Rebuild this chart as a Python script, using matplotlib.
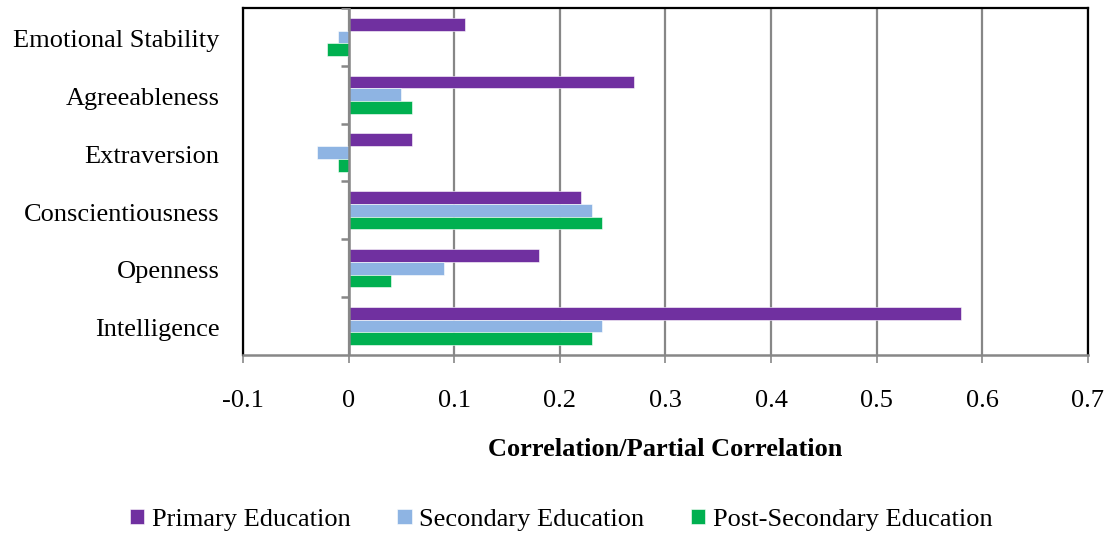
import matplotlib.pyplot as plt
import numpy as np

# data (bottom to top, as drawn on the category axis)
categories = ["Intelligence", "Openness", "Conscientiousness",
              "Extraversion", "Agreeableness", "Emotional Stability"]
primary = [0.58, 0.18, 0.22, 0.06, 0.27, 0.11]
secondary = [0.24, 0.09, 0.23, -0.03, 0.05, -0.01]
post_secondary = [0.23, 0.04, 0.24, -0.01, 0.06, -0.02]
series_names = ["Primary Education", "Secondary Education", "Post-Secondary Education"]
x_ticks = [-0.1, 0, 0.1, 0.2, 0.3, 0.4, 0.5, 0.6, 0.7]
x_tick_labels = ["-0.1", "0", "0.1", "0.2", "0.3", "0.4", "0.5", "0.6", "0.7"]

colors = ["#7030A0", "#8EB4E3", "#00B050"]
grid_gray = "#878787"
fs = 19

plt.rcParams['font.family'] = ['Liberation Serif', 'DejaVu Serif']

fig = plt.figure(figsize=(11.07, 5.33), dpi=100)
ax = fig.add_axes([0.2195, 0.334, 0.9828 - 0.2195, 0.985 - 0.334])

y = np.arange(len(categories))
h = 0.22
for k, (vals, name) in enumerate(zip([primary, secondary, post_secondary], series_names)):
    ax.barh(y + (1 - k) * h, vals, height=h, color=colors[k], label=name,
            edgecolor="white", linewidth=0.4, zorder=3)

ax.set_xlim(-0.1, 0.7)
ax.set_ylim(-0.5, len(categories) - 0.5)

# vertical gridlines
ax.set_xticks(x_ticks)
ax.set_xticklabels(x_tick_labels, fontsize=fs)
ax.grid(axis='x', color=grid_gray, linewidth=1.6, zorder=1)

# category axis sits at x = 0, with small tick marks between categories
ax.axvline(0, color=grid_gray, linewidth=1.8, zorder=4)
bounds = np.arange(len(categories) + 1) - 0.5
ax.hlines(bounds[1:], -0.007, 0, color=grid_gray, linewidth=1.8, zorder=4)

ax.set_yticks(y - 0.03)
ax.set_yticklabels(categories, fontsize=fs)
ax.tick_params(axis='y', length=0, pad=17)
ax.tick_params(axis='x', length=6, width=1.2, color=grid_gray, pad=19)

for side in ['left', 'top', 'right']:
    ax.spines[side].set_color('black')
    ax.spines[side].set_linewidth(1.6)
ax.spines['bottom'].set_color(grid_gray)
ax.spines['bottom'].set_linewidth(1.8)

ax.set_xlabel("Correlation/Partial Correlation", fontsize=fs, fontweight='bold', labelpad=19)

handles, labels = ax.get_legend_handles_labels()
fig.legend(handles, labels, loc='center', bbox_to_anchor=(0.507, 0.025), ncol=3,
           frameon=False, fontsize=fs, handlelength=0.55, handleheight=0.55,
           handletextpad=0.3, columnspacing=1.75)

fig.savefig("out.png", dpi=100)
